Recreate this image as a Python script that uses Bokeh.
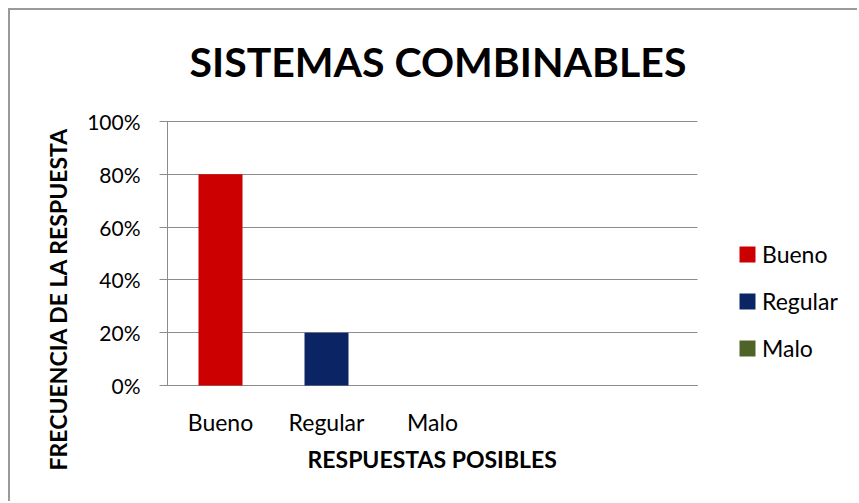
from bokeh.plotting import figure
from bokeh.models import (Range1d, FixedTicker, NumeralTickFormatter, Legend, LegendItem,
                          Title, ColumnDataSource)
from bokeh.embed import file_html
from bokeh.resources import INLINE

# ---- data ----
title_text = "SISTEMAS COMBINABLES"
categories = ["Bueno", "Regular", "Malo"]
values = [0.80, 0.20, 0.00]
colors = ["#CC0000", "#0B2463", "#4F6228"]
empty_slots = 2  # two unused category slots on the x axis
y_ticks = [0.0, 0.2, 0.4, 0.6, 0.8, 1.0]
x_title = "RESPUESTAS POSIBLES"
y_title = "FRECUENCIA DE LA RESPUESTA"

FONT = "Lato"
n_slots = len(categories) + empty_slots
xs = [i + 0.5 for i in range(len(categories))]

# ---- layout (pixels) ----
W, H = 849, 493
LEFT, RIGHT, TOP, BOTTOM = 157, 0, 111, 118
AXIS_PX = 530                      # visible width of the category axis
frame_w = W - LEFT - RIGHT
x_end = n_slots * frame_w / AXIS_PX  # extra room on the right holds the legend

p = figure(width=W, height=H, output_backend="svg", toolbar_location=None,
           x_range=Range1d(0, x_end), y_range=Range1d(0, 1),
           min_border_left=LEFT, min_border_right=RIGHT, min_border_top=TOP,
           min_border_bottom=BOTTOM, title=title_text)
p.styles = {"border-left": "2px solid #9a9a9a", "border-top": "2px solid #9a9a9a",
            "margin-left": "8px", "margin-top": "8px"}

p.title.align = "left"
p.title.offset = 22
p.title.standoff = 48
p.title.text_font = FONT
p.title.text_font_style = "bold"
p.title.text_font_size = "41px"
p.title.text_color = "#000000"

# small empty spacer between the plot area and the main title
spacer = Title(text=" ", text_font_size="1px", standoff=9)
p.add_layout(spacer, "above")

p.outline_line_color = None
p.background_fill_color = "white"
p.border_fill_color = "white"

GRID = "#8c8c8c"
# y axis: its ticks run across the category axis width and act as gridlines
p.yaxis.ticker = FixedTicker(ticks=y_ticks)
p.yaxis.formatter = NumeralTickFormatter(format="0%")
p.yaxis.major_tick_out = 8
p.yaxis.major_tick_in = AXIS_PX
p.yaxis.minor_tick_line_color = None
p.yaxis.major_tick_line_color = GRID
p.yaxis.major_tick_line_width = 1
p.yaxis.axis_line_color = GRID
p.yaxis.major_label_standoff = 19
p.yaxis.major_label_text_font = FONT
p.yaxis.major_label_text_font_size = "21px"
p.yaxis.major_label_text_color = "#000000"

# x axis
p.xaxis.bounds = (0, n_slots)
p.xaxis.ticker = FixedTicker(ticks=xs)
p.xaxis.major_label_overrides = {x: c for x, c in zip(xs, categories)}
p.xaxis.major_tick_line_color = None
p.xaxis.minor_tick_line_color = None
p.xaxis.axis_line_color = GRID
p.xaxis.major_label_standoff = 16
p.xaxis.major_label_text_font = FONT
p.xaxis.major_label_text_font_size = "23px"
p.xaxis.major_label_text_color = "#000000"

p.xgrid.grid_line_color = None
p.ygrid.grid_line_color = None

src = ColumnDataSource(dict(x=xs, top=values, color=colors, name=categories))
r = p.vbar(x="x", top="top", width=0.415, bottom=0, fill_color="color",
           line_color=None, source=src, level="overlay")

# legend: one item per category, right of the category axis
items = [LegendItem(label=c, renderers=[r], index=i) for i, c in enumerate(categories)]
legend = Legend(items=items, location=(570, 23), glyph_width=20, glyph_height=20,
                label_standoff=5, spacing=19, padding=0, margin=0,
                border_line_color=None, background_fill_alpha=0,
                label_text_font=FONT, label_text_font_size="23px",
                label_text_color="#000000")
p.add_layout(legend, "center")

# x axis title, centred under the visible category axis
xtitle = Title(text=x_title, align="left", offset=140, standoff=8,
               text_font=FONT, text_font_style="bold", text_font_size="23px",
               text_color="#000000")
p.add_layout(xtitle, "below")

# vertical axis title, placed as a left-side title
ytitle = Title(text=y_title, align="left", offset=-85, standoff=26,
               text_font=FONT, text_font_style="bold", text_font_size="23px",
               text_color="#000000")
p.add_layout(ytitle, "left")

open("out.html", "w").write(file_html(p, INLINE))
